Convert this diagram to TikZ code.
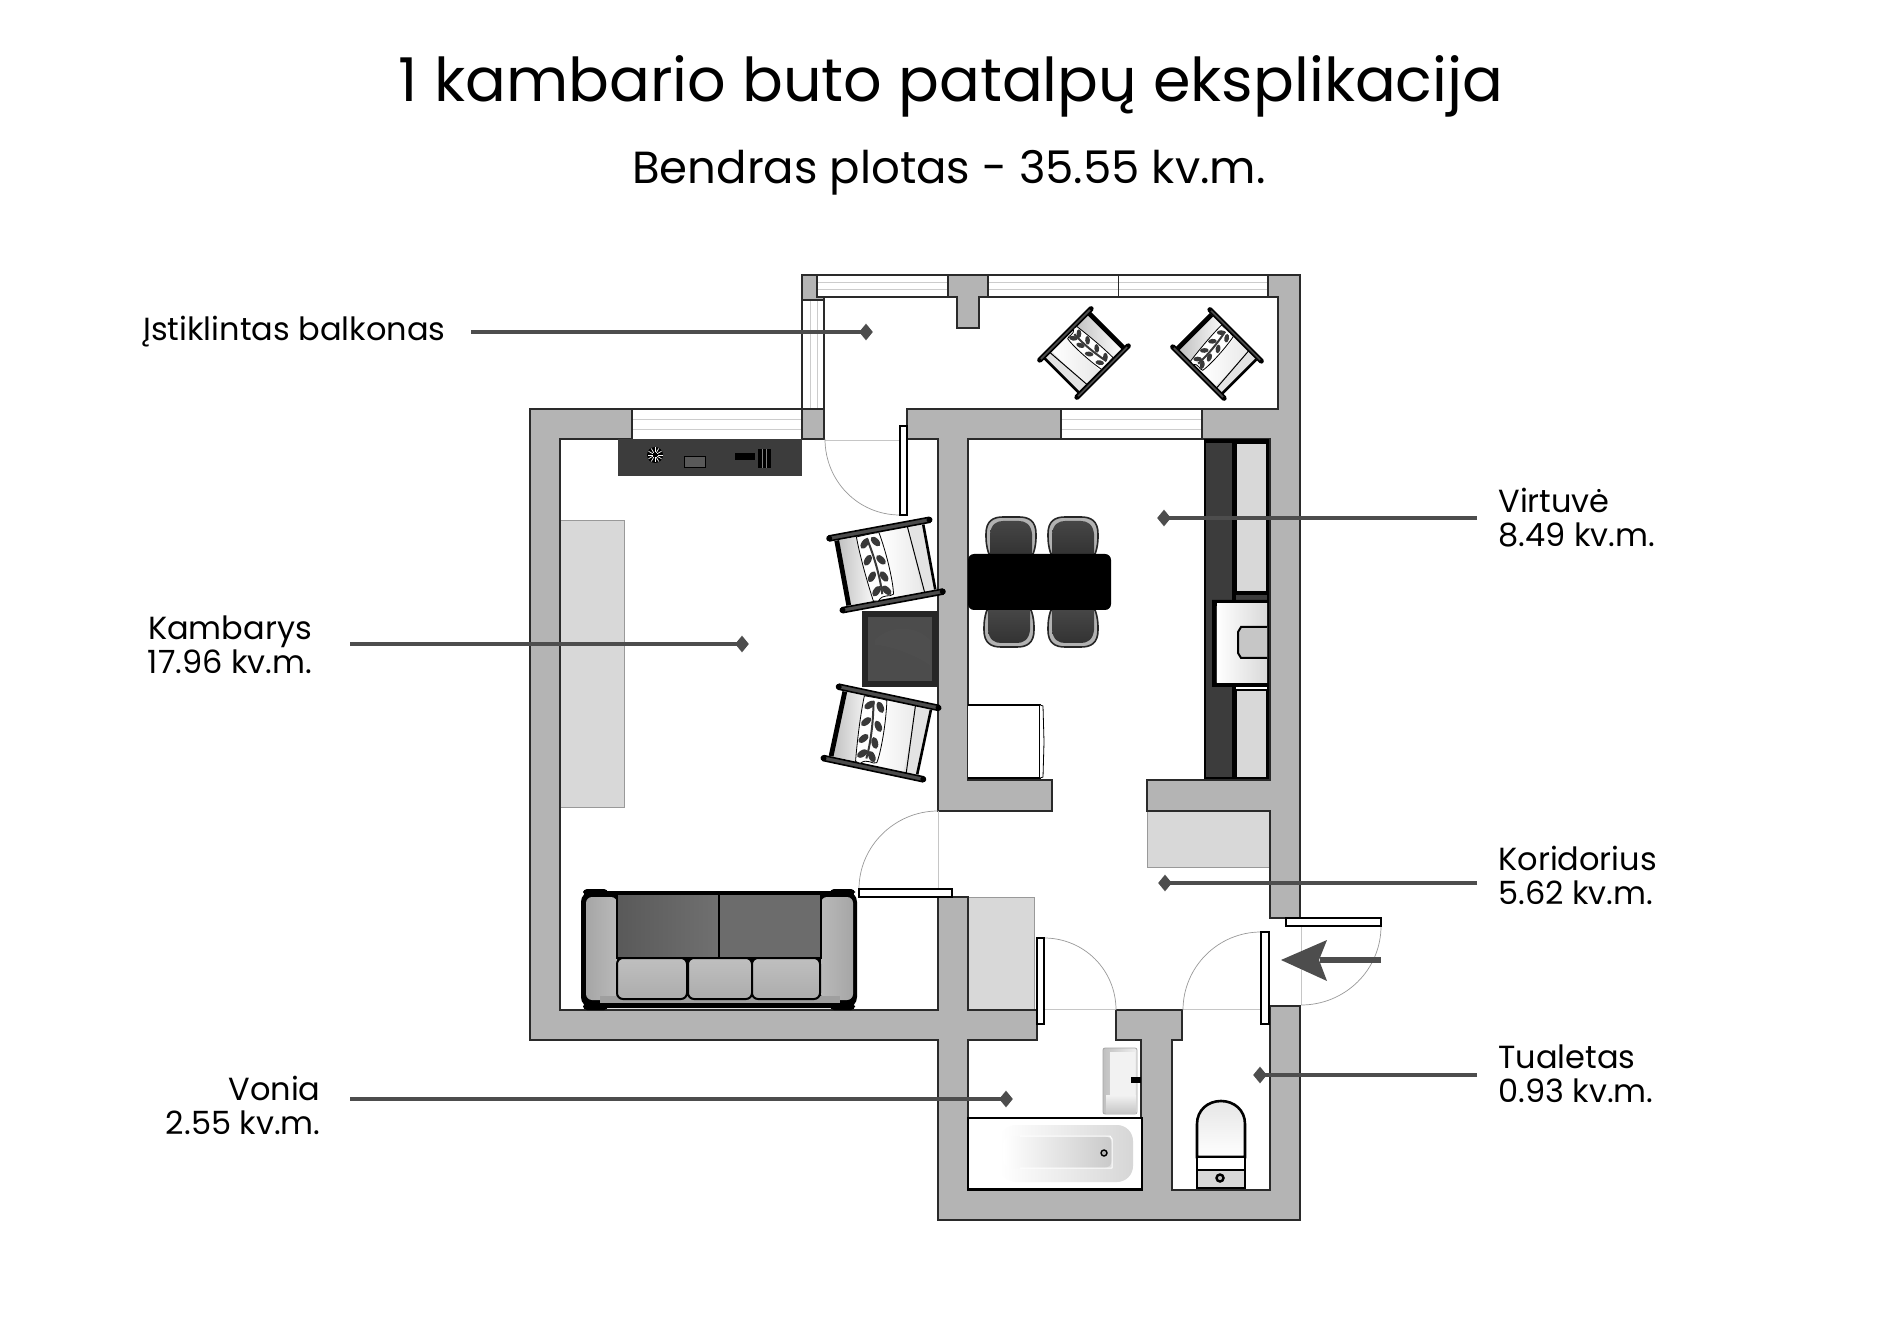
\documentclass[tikz,border=0pt]{standalone}
\usepackage{fontspec}
\setmainfont{Poppins}
\usetikzlibrary{shapes.geometric}
\definecolor{wallc}{HTML}{B4B4B4}
\definecolor{linec}{HTML}{2A2A2A}
\definecolor{leadc}{HTML}{4D4D4D}
\definecolor{patchc}{HTML}{D8D8D8}
\definecolor{glassc}{HTML}{CCCCCC}
\definecolor{darkc}{HTML}{3C3C3C}
\tikzset{
  wall/.style={fill=wallc,draw=linec,line width=0.7pt,line join=miter},
  glass/.style={fill=white,draw=linec,line width=0.6pt},
  softglass/.style={fill=white,draw=gray!70!black,line width=0.4pt},
  glassline/.style={draw=glassc,line width=0.5pt},
  doorleaf/.style={fill=white,draw=black,line width=0.8pt},
  swing/.style={draw=gray!80,line width=0.35pt},
  sill/.style={draw=gray!45,line width=0.35pt},
  patch/.style={fill=patchc,draw=gray!80,line width=0.3pt},
  leader/.style={draw=leadc,line width=1.7pt},
  tipmark/.style={diamond,fill=leadc,inner sep=0pt,minimum width=7pt,minimum height=8.5pt},
  label/.style={text=black,inner sep=0pt,font=\fontsize{16}{17}\selectfont,align=#1},
  armbar/.style={fill=gray!60!black,draw=black,line width=0.8pt,rounded corners=0.6pt},
}
\newcommand{\armchairdraw}{%
  \path[left color=gray!50,right color=white] (-44,-33) rectangle (-14,33);
  \path[fill=white] (-14,-33) rectangle (28,33);
  \path[left color=white,right color=gray!18] (2,-33) rectangle (31,33);
  \path[fill=gray!22] (30,-33) rectangle (44,33);
  \draw[black,line width=0.5pt] (28,-34) -- (33,34);
  \draw[black,line width=2.4pt] (-44,-33) -- (-44,33);
  \draw[black,line width=1.3pt] (44,-33) -- (44,33);
  \draw[armbar] (-52,-39) rectangle (52,-34);
  \draw[armbar] (-52,34) rectangle (52,39);
  \fill[black] (-51,-36.5) circle (3) (51,-36.5) circle (3) (-51,36.5) circle (3) (51,36.5) circle (3);
  \draw[fill=white,draw=black,line width=0.4pt] (-24,-33) .. controls (-20,-33) and (-3,-34) .. (-1,-33)
     .. controls (3,-10) and (4,20) .. (2,30) .. controls (-2,33) and (-8,27) .. (-14,34) .. controls (-17,34) and (-18,33) .. (-19,33)
     .. controls (-22,10) and (-24,-15) .. (-24,-33) -- cycle;
  \draw[gray!45!black,line width=1pt] (-14,-30) .. controls (-10,-10) and (-8,10) .. (-9,28);
  \foreach \px/\py/\pa in {-17/-25/45,-6/-25/125,-17/-8/50,-4/-6/125,-16/9/50,-4/11/115,-14/24/45,-4/25/125}{
    \fill[gray!45!black,rotate around={\pa:(\px,\py)}] (\px,\py) ellipse (6 and 3.3);
  }
}
\newcommand{\diningchair}{%
  \draw[fill=gray!60,draw=black!85,line width=0.8pt] (-22,0) .. controls (-25,-8) and (-25,-14) .. (-25,-20) .. controls (-25,-33) and (-18,-37) .. (-8,-37)
    -- (8,-37) .. controls (18,-37) and (25,-33) .. (25,-20) .. controls (25,-14) and (25,-8) .. (22,0) -- cycle;
  \path[top color=gray!55!black,bottom color=black!80] (-21,0) .. controls (-21,-10) and (-21,-15) .. (-21,-20) .. controls (-20,-30) and (-14,-33) .. (-8,-33)
    -- (8,-33) .. controls (14,-33) and (20,-30) .. (21,-20) .. controls (21,-15) and (21,-10) .. (21,0) -- cycle;
}
\begin{document}
\begin{tikzpicture}[x=0.5pt,y=-0.5pt]
\useasboundingbox (0,0) rectangle (1900,1325);
\fill[white] (0,0) rectangle (1900,1325);

% Floor patches
\path[patch] (560,520) rectangle (624,807);
\path[patch] (1147,811) rectangle (1270,867);
\path[patch] (968,897) rectangle (1034,1010);

% Windows
\draw[glass] (817,275) rectangle (948,297);
\draw[glass] (988,275) rectangle (1268,297);
\draw[softglass] (802,297) rectangle (824,409);
\draw[softglass] (632,409) rectangle (802,439);
\draw[softglass] (1061,409) rectangle (1202,439);
\draw[glassline] (817,283) -- (948,283) (817,290) -- (948,290);
\draw[glassline] (988,283) -- (1268,283) (988,290) -- (1268,290);
\draw[linec,line width=0.5pt] (1118,275) -- (1118,297);
\draw[glassline] (810,297) -- (810,409) (817,297) -- (817,409);
\draw[glassline] (632,420) -- (802,420) (632,430) -- (802,430);
\draw[glassline] (1061,420) -- (1202,420) (1061,430) -- (1202,430);
\draw[linec,line width=0.6pt] (802,297) -- (802,409) (824,297) -- (824,409);
\draw[linec,line width=0.6pt] (632,409) -- (802,409) (1061,409) -- (1202,409) (1061,439) -- (1202,439);

% Walls
\draw[wall] (802,275) -- (817,275) -- (817,297) -- (824,297) -- (824,300) -- (802,300) -- cycle;
\draw[wall] (948,275) -- (988,275) -- (988,297) -- (979,297) -- (979,328) -- (957,328) -- (957,297) -- (948,297) -- cycle;
\draw[wall] (1268,275) -- (1300,275) -- (1300,918) -- (1270,918) -- (1270,811) -- (1147,811) -- (1147,780)
  -- (1270,780) -- (1270,439) -- (1202,439) -- (1202,409) -- (1278,409) -- (1278,297) -- (1268,297) -- cycle;
\draw[wall] (907,409) -- (1061,409) -- (1061,439) -- (968,439) -- (968,780) -- (1052,780) -- (1052,811)
  -- (938,811) -- (938,439) -- (907,439) -- cycle;
\draw[wall] (802,409) rectangle (824,439);
\draw[wall] (530,409) -- (632,409) -- (632,439) -- (560,439) -- (560,1010) -- (938,1010) -- (938,897) -- (968,897)
  -- (968,1010) -- (1037,1010) -- (1037,1040) -- (968,1040) -- (968,1190) -- (1141,1190) -- (1141,1040) -- (1116,1040)
  -- (1116,1010) -- (1182,1010) -- (1182,1040) -- (1172,1040) -- (1172,1190) -- (1270,1190) -- (1270,1006) -- (1300,1006)
  -- (1300,1220) -- (938,1220) -- (938,1040) -- (530,1040) -- cycle;

% Doors
\draw[sill] (825,440) -- (900,440);
\draw[swing] (825,439) .. controls (825,481) and (858,515) .. (900,515);
\draw[doorleaf] (900,426) rectangle (907,515);
\draw[sill] (938,811) -- (938,889);
\draw[swing] (859,889) .. controls (859,846) and (895,811) .. (938,811);
\draw[doorleaf] (859,889) rectangle (952,897);
\draw[sill] (1044,1009) -- (1116,1009);
\draw[swing] (1044,938) .. controls (1084,938) and (1116,970) .. (1116,1010);
\draw[doorleaf] (1037,938) rectangle (1044,1024);
\draw[sill] (1183,1009) -- (1261,1009);
\draw[swing] (1261,932) .. controls (1218,932) and (1183,967) .. (1183,1010);
\draw[doorleaf] (1261,932) rectangle (1269,1024);
\draw[sill] (1301,926) -- (1301,1005);
\draw[swing] (1381,926) .. controls (1381,970) and (1345,1005) .. (1301,1005);
\draw[doorleaf] (1286,918) rectangle (1381,926);

% Console
\fill[darkc] (618,439) rectangle (802,476);
\fill[gray!70!black] (684,456) rectangle (705,467);
\draw[black,line width=0.4pt] (684,456) rectangle (705,467);
\fill[black] (655,455) circle (8);
\foreach \ang in {0,30,...,330}{\draw[white,line width=0.35pt] (655,455) ++(\ang:2.5) -- ++(\ang:5);}
\fill[black] (735,453) rectangle (755,460);
\fill[black] (758,449) rectangle (771,468);
\draw[gray,line width=0.3pt] (762,449) -- (762,468) (766,449) -- (766,468);

% Armchairs
\begin{scope}[shift={(886,565)},rotate=10.5]\armchairdraw\end{scope}
\begin{scope}[shift={(881,733)},rotate=-12]\armchairdraw\end{scope}
\begin{scope}[shift={(1084,353)},rotate=-135,scale=0.72]\armchairdraw\end{scope}
\begin{scope}[shift={(1217,354)},rotate=-45,scale=0.72]\armchairdraw\end{scope}

% Coffee table
\fill[black!85] (862,611) rectangle (938,687);
\fill[gray!60!black] (868,617) rectangle (932,681);
\fill[darkc!90,opacity=0.7] (875,640) .. controls (890,625) and (915,625) .. (930,640) -- (930,665) .. controls (915,655) and (890,645) .. (875,645) -- cycle;

% Dining set
\begin{scope}[shift={(1011,554)}]\diningchair\end{scope}
\begin{scope}[shift={(1073,554)}]\diningchair\end{scope}
\begin{scope}[shift={(1009,610)},yscale=-1]\diningchair\end{scope}
\begin{scope}[shift={(1073,610)},yscale=-1]\diningchair\end{scope}
\fill[black,rounded corners=3pt] (968,554) rectangle (1111,610);

% White cabinet
\draw[black,fill=white,line width=0.7pt] (968,705) -- (1040,705) -- (1040,778) -- (968,778);
\draw[black,fill=white,line width=0.4pt] (1040,705) -- (1043,706) -- (1044,742) -- (1043,777) -- (1040,778);

% Kitchen counter
\fill[darkc] (1205,440) rectangle (1233,778);
\fill[darkc] (1233,592) rectangle (1268,603);
\draw[black,line width=1pt] (1205,440) rectangle (1268,778);
\fill[black] (1205,439) rectangle (1268,443);
\fill[black] (1232,443) rectangle (1236,778);
\fill[black] (1236,592) rectangle (1268,595);
\draw[black,line width=0.8pt,fill=patchc] (1236,443) rectangle (1267,592);
\draw[black,line width=0.8pt,fill=patchc] (1236,690) rectangle (1267,778);
\fill[black] (1212,600) rectangle (1268,606) (1212,683) rectangle (1268,687) (1212,605) rectangle (1216,687);
\path[left color=white,right color=gray!30] (1217,604) rectangle (1267,683);
\draw[black,line width=1pt,fill=gray!45] (1267,627) -- (1241,627) -- (1238,632) -- (1238,653) -- (1241,658) -- (1267,658);

% Sofa
\draw[black,fill=black,line width=1pt,rounded corners=5pt] (582,892) rectangle (856,1007);
\fill[black,rounded corners=2pt] (583,889) rectangle (608,895) (830,889) rectangle (855,895) (583,1003) rectangle (608,1010) (830,1003) rectangle (855,1010);
\path[left color=gray!70,right color=gray!55,rounded corners=3pt] (586,897) rectangle (617,1000);
\path[left color=gray!55,right color=gray!70,rounded corners=3pt] (821,897) rectangle (853,1000);
\path[fill=gray!75] (600,996) rectangle (840,1003);
\draw[black,line width=1pt,left color=gray!70!black,right color=gray!88!black] (617,894) rectangle (719,958);
\draw[black,line width=1pt,fill=gray!85!black] (719,894) rectangle (821,958);
\foreach \sx/\sw in {617/70,688/64,752/68}{
  \draw[black,line width=1pt,top color=gray!50,bottom color=gray!65,rounded corners=3pt] (\sx,958) rectangle ++(\sw,41);
}

% Basin
\draw[gray!70,line width=0.4pt,left color=gray!50,right color=gray!12,rounded corners=1pt] (1103,1048) rectangle (1137,1114);
\path[fill=gray!10] (1110,1052) -- (1135,1052) -- (1135,1095) -- (1110,1095) -- cycle;
\path[top color=gray!10,bottom color=gray!45] (1106,1095) -- (1136,1095) -- (1136,1113) -- (1106,1113) -- cycle;
\fill[black] (1131,1077) rectangle (1141,1083);

% Bath
\draw[black,fill=white,line width=1pt] (968,1118) rectangle (1142,1190);
\draw[black,line width=1.4pt] (968,1189) -- (1142,1189);
\path[left color=white,right color=gray!32,rounded corners=8pt] (1000,1125) rectangle (1133,1182);
\path[left color=white,right color=gray!42,rounded corners=4pt] (1003,1136) rectangle (1112,1168);
\draw[white,line width=0.5pt] (1020,1168) -- (1112,1168) (1020,1136) -- (1110,1136) -- (1112,1139) -- (1112,1168);
\draw[black,line width=0.7pt,fill=gray!60] (1104,1153) circle (3);

% Toilet
\draw[black,line width=1.3pt,top color=gray!20,bottom color=white] (1197,1157) -- (1197,1124) .. controls (1197,1110) and (1208,1101) .. (1221,1101)
  .. controls (1234,1101) and (1245,1110) .. (1245,1124) -- (1245,1157) -- cycle;
\draw[black,line width=1.3pt,fill=white] (1197,1157) rectangle (1245,1170);
\draw[black,line width=1.3pt,fill=patchc] (1197,1170) rectangle (1245,1188);
\draw[black,line width=1.2pt,fill=gray!50] (1220,1178) circle (3.5);

% Entry arrow
\coordinate (arrowtail) at (1381,960);
\coordinate (arrowhead) at (1320,960);
\draw[leadc,line width=2.7pt] (arrowtail) -- (arrowhead);
\fill[leadc] (1281,960) -- (1327,940) -- (1319,960) -- (1327,981) -- cycle;

% Title
\node[inner sep=0pt,anchor=base,font=\fontsize{30.2}{32}\selectfont] (title) at (951,102) {1 kambario buto patalpų eksplikacija};
\node[inner sep=0pt,anchor=base,font=\fontsize{22.5}{24}\selectfont] (subtitle) at (949,184) {Bendras plotas - 35.55 kv.m.};

% Labels and pointers
\node[label=left,anchor=base west] (lb) at (143,341) {Įstiklintas balkonas};
\coordinate (lbs) at (471,332);
\node[tipmark] (lbt) at (866,332) {};
\draw[leader] (lbs) -- (lbt.center);

\node[label=center,anchor=base] (lk) at (230,674) {Kambarys\\17.96 kv.m.};
\coordinate (lks) at (350,644);
\node[tipmark] (lkt) at (742,644) {};
\draw[leader] (lks) -- (lkt.center);

\node[label=right,anchor=base east] (lv) at (321,1134) {Vonia\\2.55 kv.m.};
\coordinate (lvs) at (350,1099);
\node[tipmark] (lvt) at (1006,1099) {};
\draw[leader] (lvs) -- (lvt.center);

\node[label=left,anchor=base west] (li) at (1498,547) {Virtuvė\\8.49 kv.m.};
\coordinate (lis) at (1477,518);
\node[tipmark] (lit) at (1164,518) {};
\draw[leader] (lis) -- (lit.center);

\node[label=left,anchor=base west] (lo) at (1498,904) {Koridorius\\5.62 kv.m.};
\coordinate (los) at (1477,883);
\node[tipmark] (lot) at (1165,883) {};
\draw[leader] (los) -- (lot.center);

\node[label=left,anchor=base west] (lt) at (1498,1102) {Tualetas\\0.93 kv.m.};
\coordinate (lts) at (1477,1075);
\node[tipmark] (ltt) at (1260,1075) {};
\draw[leader] (lts) -- (ltt.center);
\end{tikzpicture}
\end{document}
